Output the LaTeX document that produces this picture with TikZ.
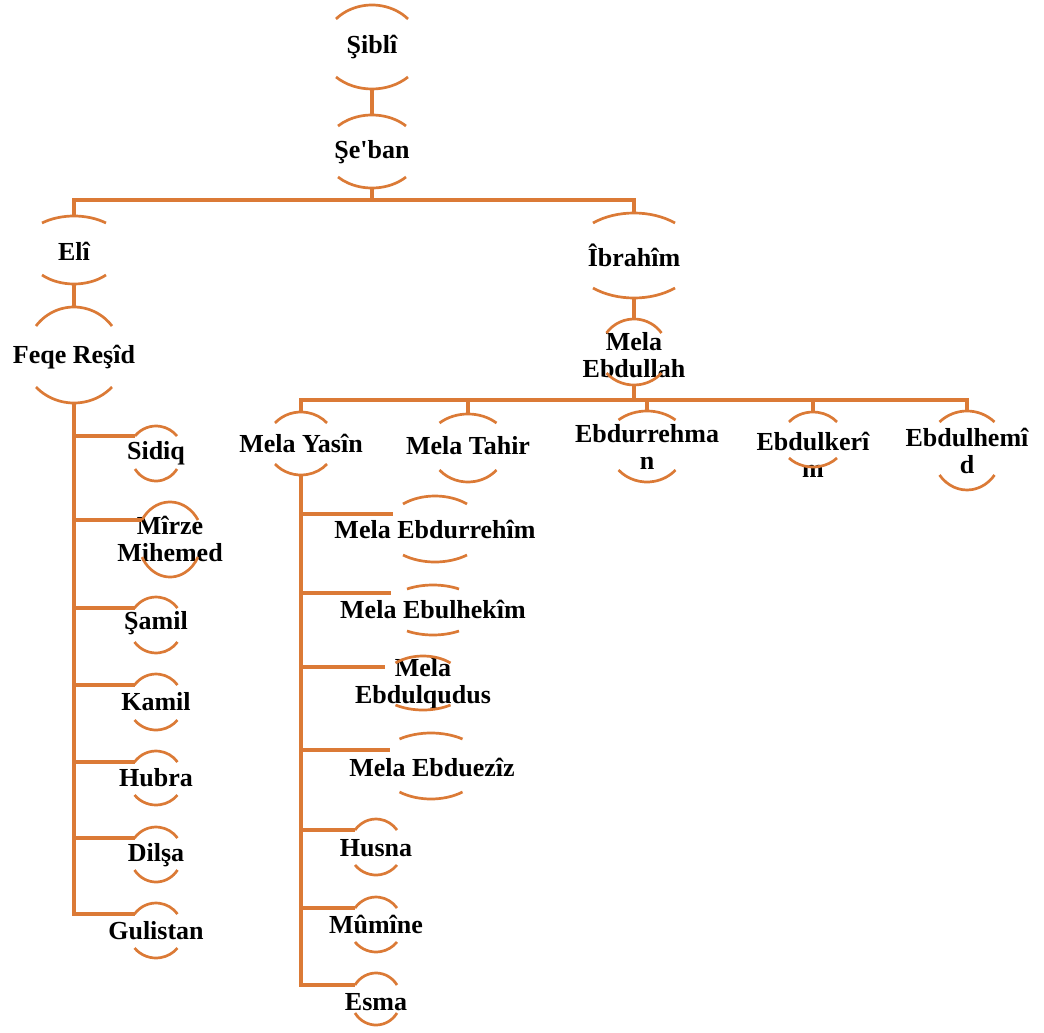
\documentclass[tikz,border=0pt]{standalone}
\usepackage{fontspec}
\setmainfont{Liberation Serif}[Ligatures=TeXOff]
\definecolor{tree}{HTML}{DB7A36}
\tikzset{
  lbl/.style={inner sep=0pt, align=center, font=\fontsize{26}{27}\selectfont\bfseries, text=black},
  ring/.style={draw=tree, line width=2.7pt},
  link/.style={draw=tree, line width=3.1pt},
}
% \rings{name}{cx}{cy}{halfwidth}{top apex}{top end}{bottom apex}{bottom end}  (cy measured downward)
\newcommand\rings[8]{%
  \pgfmathsetmacro\rcy{-(#3)}%
  \pgfmathsetmacro\tth{asin((#6)/(#5))}%
  \pgfmathsetmacro\trx{(#4)/cos(\tth)}%
  \pgfmathsetmacro\bth{asin((#8)/(#7))}%
  \pgfmathsetmacro\brx{(#4)/cos(\bth)}%
  \draw[ring] ({#2-#4},{\rcy+#6}) arc[start angle={180-\tth}, end angle={\tth}, x radius=\trx pt, y radius=#5pt];
  \draw[ring] ({#2-#4},{\rcy-#8}) arc[start angle={180+\bth}, end angle={360-\bth}, x radius=\brx pt, y radius=#7pt];
  \coordinate (#1-t) at (#2,{\rcy+#5});
  \coordinate (#1-b) at (#2,{\rcy-#7});
  \coordinate (#1-l) at ({#2-#4},{\rcy+#6});
}
\begin{document}
\begin{tikzpicture}[x=1pt,y=1pt]
\useasboundingbox (0,0) rectangle (1044,-1033);

% ---- nodes ----
\node[lbl] (sibli) at (372,-47) {Şiblî};
\rings{sibli}{372}{47}{36}{42}{28}{42}{30}
\node[lbl] (seban) at (372,-152) {Şe'ban};
\rings{seban}{372}{151.5}{34}{36.5}{25.5}{36.5}{25.5}
\node[lbl] (eli) at (74,-251) {Elî};
\rings{eli}{74}{250}{32}{34}{27}{34}{25}
\node[lbl] (feqe) at (74,-357) {Feqe Reşîd};
\rings{feqe}{74}{355}{38}{48}{29}{48}{32}
\node[lbl] (ibrahim) at (634,-255) {Îbrahîm};
\rings{ibrahim}{634}{255.5}{41}{42.5}{32.5}{42.5}{32.5}
\node[lbl] (ebdullah) at (634,-355) {Mela\\Ebdullah};
\rings{ebdullah}{634}{352}{27.5}{33}{19}{33}{21}

\node[lbl] (yasin) at (301,-443) {Mela Yasîn};
\rings{yasin}{301}{443.5}{26}{31.5}{20.5}{31.5}{20.5}
\node[lbl] (tahir) at (468,-446) {Mela Tahir};
\rings{tahir}{468}{448}{28.5}{34}{25}{34}{22}
\node[lbl] (rehman) at (647,-447) {Ebdurrehma\\n};
\rings{rehman}{647}{446.5}{28.5}{35.5}{26.5}{35.5}{23.5}
\node[lbl] (kerim) at (813,-455) {Ebdulkerî\\m};
\rings{kerim}{813}{439.5}{24}{27.5}{17.5}{27.5}{18.5}
\node[lbl] (hemid) at (967,-451) {Ebdulhemî\\d};
\rings{hemid}{967}{450.5}{27.5}{39.5}{28.5}{39.5}{24.5}

\node[lbl] (sidiq) at (156,-453) {Sidiq};
\rings{sidiq}{156}{453.5}{21}{27.5}{17.5}{27.5}{15.5}
\node[lbl] (mirze) at (170,-539) {Mîrze\\Mihemed};
\rings{mirze}{170}{539.5}{28}{37.5}{19.5}{37.5}{17.5}
\node[lbl] (samil) at (156,-623) {Şamil};
\rings{samil}{156}{625}{21.5}{28}{17}{28}{17}
\node[lbl] (kamil) at (156,-702) {Kamil};
\rings{kamil}{156}{702}{21.5}{28}{17}{28}{18}
\node[lbl] (hubra) at (156,-778) {Hubra};
\rings{hubra}{156}{778}{21.5}{27}{16}{27}{17}
\node[lbl] (dilsa) at (156,-855) {Dilşa};
\rings{dilsa}{156}{854.5}{21.5}{27.5}{16.5}{27.5}{15.5}
\node[lbl] (gulistan) at (156,-931) {Gulistan};
\rings{gulistan}{156}{930.5}{21.5}{27.5}{16.5}{27.5}{17.5}

\node[lbl] (rehim) at (435,-529) {Mela Ebdurrehîm};
\rings{rehim}{435}{529}{32}{33}{25}{33}{26}
\node[lbl] (hekim) at (433,-609) {Mela Ebulhekîm};
\rings{hekim}{433}{610}{26}{25}{21}{25}{21}
\node[lbl] (qudus) at (423,-684) {Mela\\Ebdulqudus};
\rings{qudus}{423}{683}{27.5}{27}{20}{27}{22}
\node[lbl] (eziz) at (432,-767) {Mela Ebduezîz};
\rings{eziz}{431}{766}{31.5}{33}{27}{33}{26}
\node[lbl] (husna) at (376,-848) {Husna};
\rings{husna}{376}{847}{21}{28}{17}{28}{18}
\node[lbl] (mumine) at (376,-924) {Mûmîne};
\rings{mumine}{376}{924.5}{21}{27.5}{16.5}{27.5}{17.5}
\node[lbl] (esma) at (376,-1002) {Esma};
\rings{esma}{376}{999}{21}{26}{14}{26}{14}

% ---- junctions ----
\coordinate (j1) at (372,-200);
\coordinate (j2) at (634,-400);
\coordinate (k1) at (393,-514);
\coordinate (k2) at (391,-593);
\coordinate (k3) at (385,-667);
\coordinate (k4) at (390,-750);

% ---- connectors ----
\draw[link] (sibli-b) -- (seban-t);
\draw[link] (seban-b) -- (j1);
\draw[link] (eli-t) |- (j1) -| (ibrahim-t);
\draw[link] (eli-b) -- (feqe-t);
\draw[link] (ibrahim-b) -- (ebdullah-t);
\draw[link] (ebdullah-b) -- (j2);
\draw[link] (yasin-t) |- (j2) -| (hemid-t);
\draw[link] (tahir-t) -- (tahir-t |- j2);
\draw[link] (rehman-t) -- (rehman-t |- j2);
\draw[link] (kerim-t) -- (kerim-t |- j2);

\draw[link] (feqe-b) |- (gulistan-l);
\foreach \c in {sidiq,mirze,samil,kamil,hubra,dilsa}
  \draw[link] (feqe-b |- \c-l) -- (\c-l);

\draw[link] (yasin-b) |- (esma-l);
\foreach \c in {k1,k2,k3,k4,husna-l,mumine-l}
  \draw[link] (yasin-b |- \c) -- (\c);
\end{tikzpicture}
\end{document}
